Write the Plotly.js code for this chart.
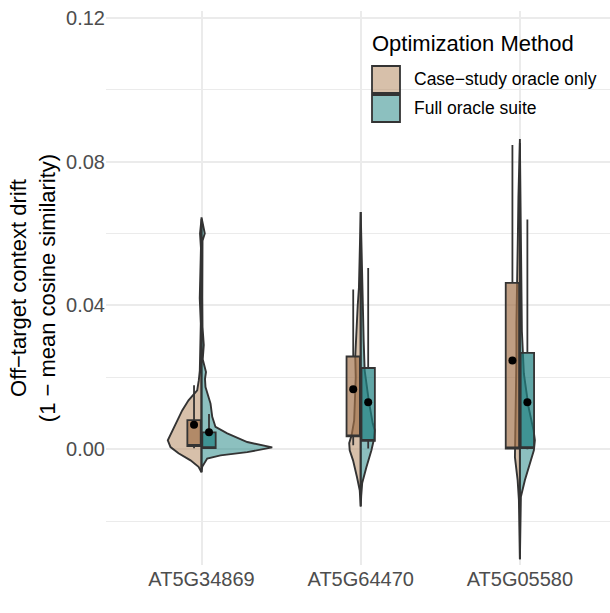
<!DOCTYPE html>
<html><head><meta charset="utf-8">
<script src="https://cdn.plot.ly/plotly-3.0.1.min.js"></script>
<style>html,body{margin:0;padding:0;background:#fff}</style>
</head><body><div id="chart" style="width:610px;height:613px"></div>
<script>
const genes = ['AT5G34869', 'AT5G64470', 'AT5G05580'];
const methods = ['Case−study oracle only', 'Full oracle suite'];

// Box summaries, one value per gene (genes order)
const csLower  = [0.0003, 0.0011, 0.0000];
const csQ1     = [0.0009, 0.0036, 0.0002];
const csMedian = [0.0009, 0.0036, 0.0002];
const csQ3     = [0.0081, 0.0258, 0.0463];
const csUpper  = [0.0178, 0.0444, 0.0846];
const csMean   = [0.0068, 0.0167, 0.0247];

const foLower  = [0.0001, 0.0002, 0.0000];
const foQ1     = [0.0003, 0.0023, 0.0003];
const foMedian = [0.0003, 0.0023, 0.0003];
const foQ3     = [0.0047, 0.0226, 0.0268];
const foUpper  = [0.0098, 0.0504, 0.0639];
const foMean   = [0.0047, 0.0131, 0.0131];

// Violin density profiles (relative density at each drift value)
const csY_AT5G34869 = [0.0641,0.0600,0.0560,0.0480,0.0420,0.0350,0.0260,0.0219,0.0192,0.0164,0.0136,0.0108,0.0081,0.0053,0.0025,0.0006,-0.0011,-0.0031,-0.0049,-0.0064];
const csD_AT5G34869 = [0,0.021,0.008,0.014,0.025,0.010,0.017,0.024,0.038,0.061,0.183,0.272,0.338,0.408,0.475,0.437,0.324,0.155,0.042,0];
const foY_AT5G34869 = [0.0645,0.0610,0.0600,0.0580,0.0500,0.0420,0.0340,0.0290,0.0250,0.0215,0.0195,0.0173,0.0127,0.0090,0.0062,0.0044,0.0020,0.0005,-0.0008,-0.0017,-0.0026,-0.0049,-0.0064];
const foD_AT5G34869 = [0,0.035,0.046,0.014,0.008,0.011,0.014,0.032,0.017,0.063,0.049,0.056,0.127,0.151,0.197,0.362,0.644,0.996,0.644,0.268,0.080,0.010,0];

const csY_AT5G64470 = [0.0660,0.0550,0.0450,0.0400,0.0320,0.0258,0.0200,0.0140,0.0080,0.0040,0.0017,-0.0003,-0.0031,-0.0078,-0.0114,-0.0159];
const csD_AT5G64470 = [0,0.011,0.025,0.042,0.063,0.077,0.070,0.077,0.092,0.127,0.162,0.155,0.108,0.052,0.014,0];
const foY_AT5G64470 = [0.0660,0.0550,0.0450,0.0380,0.0300,0.0219,0.0136,0.0072,0.0053,0.0025,-0.0003,-0.0050,-0.0094,-0.0130,-0.0159];
const foD_AT5G64470 = [0,0.011,0.021,0.035,0.042,0.056,0.113,0.169,0.197,0.183,0.151,0.080,0.021,0.007,0];

const csY_AT5G05580 = [0.0863,0.0800,0.0700,0.0600,0.0461,0.0350,0.0254,0.0116,0.0025,-0.0022,-0.0086,-0.0141,-0.0223,-0.0306];
const csD_AT5G05580 = [0,0.010,0.021,0.028,0.042,0.049,0.049,0.056,0.070,0.070,0.032,0.014,0.007,0];
const foY_AT5G05580 = [0.0852,0.0687,0.0466,0.0328,0.0210,0.0116,0.0052,0.0025,-0.0003,-0.0039,-0.0086,-0.0132,-0.0223,-0.0306];
const foD_AT5G05580 = [0,0.011,0.021,0.028,0.056,0.123,0.193,0.211,0.197,0.141,0.070,0.014,0.007,0];

const csProfiles = [[csY_AT5G34869, csD_AT5G34869], [csY_AT5G64470, csD_AT5G64470], [csY_AT5G05580, csD_AT5G05580]];
const foProfiles = [[foY_AT5G34869, foD_AT5G34869], [foY_AT5G64470, foD_AT5G64470], [foY_AT5G05580, foD_AT5G05580]];

// ---- styling ----
const FONT = 'Liberation Sans, Arial, Helvetica, sans-serif';
const csVioFill = 'rgba(182,140,100,0.55)';
const foVioFill = 'rgba(45,140,138,0.55)';
const csBoxFill = 'rgba(160,112,72,0.68)';
const foBoxFill = 'rgba(30,128,128,0.70)';
const OUTLINE = '#333333';
const HALF = 0.446;    // max half width of violin, category units
const DODGE = 0.047;   // box offset from category centre
const BOXW = 0.084;

const traces = [];
function halfViolin(idx, prof, side, fill, name) {
  const ys = prof[0], ds = prof[1];
  const xs = [], yy = [];
  for (let i = 0; i < ys.length; i++) { xs.push(idx + side * ds[i] * HALF); yy.push(ys[i]); }
  xs.push(idx); yy.push(ys[ys.length - 1]);
  xs.push(idx); yy.push(ys[0]);
  traces.push({type: 'scatter', mode: 'lines', x: xs, y: yy, fill: 'toself', fillcolor: fill,
    line: {color: OUTLINE, width: 1.9}, showlegend: false, hoverinfo: 'skip', name: name,
    xaxis: 'x', yaxis: 'y'});
}
genes.forEach((g, i) => {
  halfViolin(i, csProfiles[i], -1, csVioFill, methods[0]);
  halfViolin(i, foProfiles[i], 1, foVioFill, methods[1]);
});

const idx = genes.map((g, i) => i);
function boxTrace(offset, lo, q1, med, q3, up, fill, name) {
  return {type: 'box', x: idx.map(i => i + offset), lowerfence: lo, q1: q1, median: med, q3: q3,
    upperfence: up, width: BOXW, whiskerwidth: 0, fillcolor: fill,
    line: {color: OUTLINE, width: 1.8}, showlegend: false, name: name, hoverinfo: 'skip',
    xaxis: 'x2', yaxis: 'y2'};
}
traces.push(boxTrace(-DODGE, csLower, csQ1, csMedian, csQ3, csUpper, csBoxFill, methods[0]));
traces.push(boxTrace(DODGE, foLower, foQ1, foMedian, foQ3, foUpper, foBoxFill, methods[1]));
traces.push({type: 'scatter', mode: 'markers', x: idx.map(i => i - DODGE), y: csMean,
  marker: {color: '#000', size: 8}, showlegend: false, xaxis: 'x2', yaxis: 'y2', hoverinfo: 'skip'});
traces.push({type: 'scatter', mode: 'markers', x: idx.map(i => i + DODGE), y: foMean,
  marker: {color: '#000', size: 8}, showlegend: false, xaxis: 'x2', yaxis: 'y2', hoverinfo: 'skip'});

// plot geometry (px)
const W = 610, H = 613, L = 106, R = 0, T = 11, B = 48;
const XR = [-0.6, 2.566], YR = [-0.0322, 0.1219];
const px = v => (v - L) / (W - L - R);
const py = v => (H - B - v) / (H - T - B);

const layout = {
  width: W, height: H,
  margin: {l: L, r: R, t: T, b: B},
  paper_bgcolor: '#fff', plot_bgcolor: '#fff',
  showlegend: false,
  font: {family: FONT},
  xaxis: {range: XR, tickvals: idx, ticktext: genes, showgrid: true, gridcolor: '#ebebeb', gridwidth: 2,
    zeroline: false, showline: false, ticks: '',
    tickfont: {size: 20, color: '#4d4d4d', family: FONT}, fixedrange: true},
  yaxis: {range: YR, tickvals: [0, 0.04, 0.08, 0.12], ticktext: ['0.00', '0.04', '0.08', '0.12'],
    showgrid: true, gridcolor: '#ebebeb', gridwidth: 2, zeroline: false, showline: false,
    minor: {tickvals: [-0.02, 0.02, 0.06, 0.10], showgrid: true, gridcolor: '#ebebeb', gridwidth: 1.2, ticks: ''},
    ticks: '',
    tickfont: {size: 20, color: '#4d4d4d', family: FONT}, fixedrange: true,
    title: {text: 'Off−target context drift<br>(1 − mean cosine similarity)', font: {size: 22, color: '#000', family: FONT}, standoff: 4}},
  xaxis2: {range: XR, overlaying: 'x', visible: false, fixedrange: true},
  yaxis2: {range: YR, overlaying: 'y', visible: false, fixedrange: true},
  boxmode: 'overlay',
  shapes: [
    {type: 'rect', xref: 'paper', yref: 'paper', x0: px(372), x1: px(400), y0: py(93), y1: py(66),
      fillcolor: csVioFill, line: {color: OUTLINE, width: 1.8}},
    {type: 'rect', xref: 'paper', yref: 'paper', x0: px(372), x1: px(400), y0: py(122), y1: py(95),
      fillcolor: foVioFill, line: {color: OUTLINE, width: 1.8}}
  ],
  annotations: [
    {xref: 'paper', yref: 'paper', x: px(370), y: py(43), xanchor: 'left', yanchor: 'middle', showarrow: false,
      text: 'Optimization Method', font: {size: 22, color: '#000', family: FONT}},
    {xref: 'paper', yref: 'paper', x: px(412), y: py(79.5), xanchor: 'left', yanchor: 'middle', showarrow: false,
      text: methods[0], font: {size: 17.5, color: '#000', family: FONT}},
    {xref: 'paper', yref: 'paper', x: px(412), y: py(108.5), xanchor: 'left', yanchor: 'middle', showarrow: false,
      text: methods[1], font: {size: 17.5, color: '#000', family: FONT}}
  ]
};

Plotly.newPlot('chart', traces, layout, {displayModeBar: false, staticPlot: true});
</script></body></html>
